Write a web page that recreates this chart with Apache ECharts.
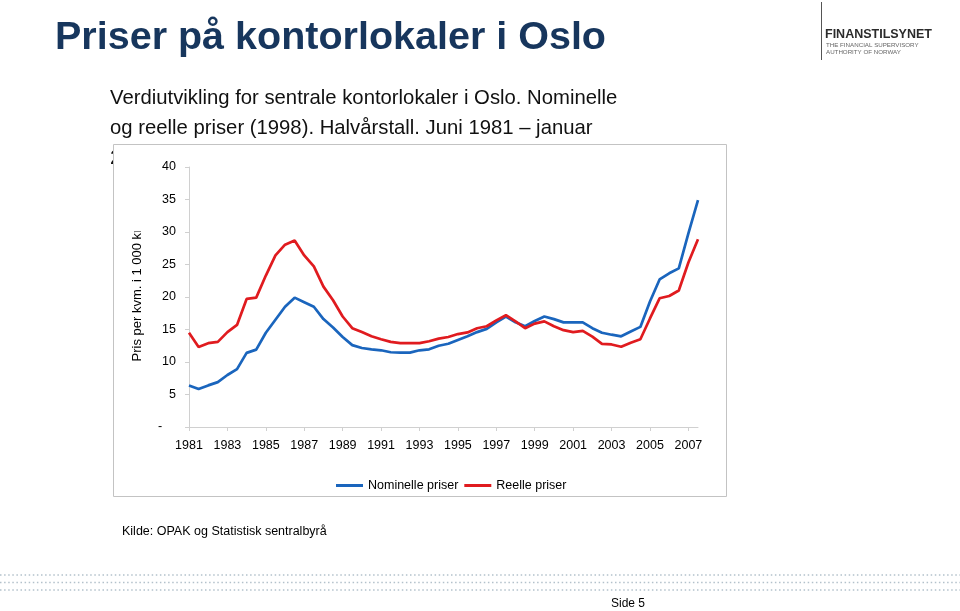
<!DOCTYPE html>
<html>
<head>
<meta charset="utf-8">
<script src="https://cdn.jsdelivr.net/npm/echarts@6/dist/echarts.min.js"></script>
<style>
html,body{margin:0;padding:0;background:#fff;}
#c{width:960px;height:611px;}
</style>
</head>
<body>
<div id="c"></div>
<script>
var periods = ['jun 1981','jan 1982','jun 1982','jan 1983','jun 1983','jan 1984','jun 1984','jan 1985','jun 1985','jan 1986',
  'jun 1986','jan 1987','jun 1987','jan 1988','jun 1988','jan 1989','jun 1989','jan 1990','jun 1990','jan 1991',
  'jun 1991','jan 1992','jun 1992','jan 1993','jun 1993','jan 1994','jun 1994','jan 1995','jun 1995','jan 1996',
  'jun 1996','jan 1997','jun 1997','jan 1998','jun 1998','jan 1999','jun 1999','jan 2000','jun 2000','jan 2001',
  'jun 2001','jan 2002','jun 2002','jan 2003','jun 2003','jan 2004','jun 2004','jan 2005','jun 2005','jan 2006',
  'jun 2006','jan 2007','jun 2007','jan 2008'];

var nominelle = [6.4, 5.85, 6.4, 6.9, 8.0, 8.9, 11.4, 11.9, 14.5, 16.5,
  18.5, 19.9, 19.2, 18.5, 16.6, 15.3, 13.85, 12.6, 12.15, 11.95,
  11.8, 11.5, 11.45, 11.45, 11.8, 11.95, 12.5, 12.8, 13.4, 13.95,
  14.6, 15.1, 16.1, 17.0, 16.1, 15.5, 16.3, 17.0, 16.6, 16.1,
  16.1, 16.1, 15.2, 14.5, 14.2, 13.95, 14.7, 15.4, 19.3, 22.7,
  23.65, 24.4, 29.8, 34.9];

var reelle = [14.5, 12.3, 12.9, 13.1, 14.6, 15.7, 19.7, 19.9, 23.3, 26.4,
  28.05, 28.7, 26.4, 24.7, 21.6, 19.5, 17.0, 15.2, 14.6, 13.95,
  13.5, 13.1, 12.9, 12.9, 12.9, 13.2, 13.6, 13.85, 14.3, 14.55,
  15.2, 15.5, 16.4, 17.2, 16.25, 15.2, 15.9, 16.25, 15.5, 14.9,
  14.6, 14.8, 13.9, 12.8, 12.7, 12.35, 12.97, 13.5, 16.7, 19.8,
  20.15, 21.0, 25.3, 28.9];

var seriesNames = ['Nominelle priser', 'Reelle priser'];
var yTicks = [0, 5, 10, 15, 20, 25, 30, 35, 40];

var FONT = '"Liberation Sans", Arial, sans-serif';
var chart = echarts.init(document.getElementById('c'), null, {renderer: 'canvas'});

var dotRows = [];
[575, 582.5, 590].forEach(function (yy) {
  dotRows.push({
    type: 'line', z: 1,
    shape: {x1: 0, y1: yy, x2: 960, y2: yy},
    style: {stroke: '#b3c1cb', lineWidth: 1.6, lineDash: [1.5, 2.6]}
  });
});

var option = {
  animation: false,
  backgroundColor: '#ffffff',
  textStyle: {fontFamily: FONT},
  grid: {left: 189, top: 167, width: 509, height: 260, containLabel: false},
  legend: {
    data: seriesNames,
    left: 331, top: 474,
    icon: 'rect', itemWidth: 27, itemHeight: 3, itemGap: 6, z: 10,
    textStyle: {fontFamily: FONT, fontSize: 12.5, color: '#000'}
  },
  xAxis: {
    type: 'category',
    z: 5,
    data: periods,
    boundaryGap: false,
    axisLine: {lineStyle: {color: '#d0d0d0', width: 1}},
    axisTick: {show: true, interval: 3, length: 4, lineStyle: {color: '#d0d0d0'}},
    axisLabel: {
      interval: 3, margin: 12, fontSize: 12.5, color: '#000', fontFamily: FONT,
      formatter: function (v) { return v.slice(-4); }
    },
    splitLine: {show: false}
  },
  yAxis: {
    type: 'value',
    z: 5,
    min: yTicks[0], max: yTicks[yTicks.length - 1], interval: 5,
    axisLine: {show: true, lineStyle: {color: '#d0d0d0', width: 1}},
    axisTick: {show: true, length: 4, lineStyle: {color: '#d0d0d0'}},
    axisLabel: {
      margin: 13, fontSize: 12.5, color: '#000', fontFamily: FONT,
      formatter: function (v) { return v === 0 ? '-    ' : String(v); }
    },
    splitLine: {show: false}
  },
  series: [
    {
      name: seriesNames[0], type: 'line', data: nominelle, z: 6,
      showSymbol: false, symbol: 'none',
      lineStyle: {color: '#1a65bd', width: 2.7},
      itemStyle: {color: '#1a65bd'}
    },
    {
      name: seriesNames[1], type: 'line', data: reelle, z: 7,
      showSymbol: false, symbol: 'none',
      lineStyle: {color: '#e01b1f', width: 2.7},
      itemStyle: {color: '#e01b1f'}
    }
  ],
  graphic: [
    {type: 'text', z: 0, x: 55, y: 38,
      style: {text: 'Priser på kontorlokaler i Oslo', fontFamily: FONT, fontSize: 39.5, fontWeight: 'bold',
        fill: '#17365d', textAlign: 'left', textVerticalAlign: 'middle'}},
    {type: 'text', z: 0, x: 110, y: 98,
      style: {text: 'Verdiutvikling for sentrale kontorlokaler i Oslo. Nominelle', fontFamily: FONT, fontSize: 20.3,
        fill: '#111', textAlign: 'left', textVerticalAlign: 'middle'}},
    {type: 'text', z: 0, x: 110, y: 128,
      style: {text: 'og reelle priser (1998). Halvårstall. Juni 1981 – januar', fontFamily: FONT, fontSize: 20.3,
        fill: '#111', textAlign: 'left', textVerticalAlign: 'middle'}},
    {type: 'text', z: 0, x: 110, y: 158,
      style: {text: '2008', fontFamily: FONT, fontSize: 20.3,
        fill: '#111', textAlign: 'left', textVerticalAlign: 'middle'}},
    {type: 'rect', z: 1,
      shape: {x: 113.5, y: 144.5, width: 613, height: 352},
      style: {fill: '#ffffff', stroke: '#c3c3c3', lineWidth: 1}},
    {type: 'text', z: 5, x: 137.5, y: 361.5, rotation: Math.PI / 2,
      style: {text: 'Pris per kvm. i 1 000 kr', fontFamily: FONT, fontSize: 13,
        fill: '#000', textAlign: 'left', textVerticalAlign: 'middle'}},
    {type: 'rect', z: 6,
      shape: {x: 124, y: 205, width: 26, height: 26.5},
      style: {fill: '#ffffff'}},
    {type: 'text', z: 2, x: 122, y: 532,
      style: {text: 'Kilde: OPAK og Statistisk sentralbyrå', fontFamily: FONT, fontSize: 12.5,
        fill: '#000', textAlign: 'left', textVerticalAlign: 'middle'}},
    {type: 'line', z: 2, shape: {x1: 821.5, y1: 2, x2: 821.5, y2: 60},
      style: {stroke: '#555', lineWidth: 1}},
    {type: 'text', z: 2, x: 825, y: 35,
      style: {text: 'FINANSTILSYNET', fontFamily: FONT, fontSize: 12.5, fontWeight: 'bold',
        fill: '#2b2b2b', textAlign: 'left', textVerticalAlign: 'middle'}},
    {type: 'text', z: 2, x: 826, y: 45.5,
      style: {text: 'THE FINANCIAL SUPERVISORY', fontFamily: FONT, fontSize: 6.2,
        fill: '#666', textAlign: 'left', textVerticalAlign: 'middle'}},
    {type: 'text', z: 2, x: 826, y: 52.5,
      style: {text: 'AUTHORITY OF NORWAY', fontFamily: FONT, fontSize: 6.2,
        fill: '#666', textAlign: 'left', textVerticalAlign: 'middle'}},
    {type: 'text', z: 2, x: 611, y: 604,
      style: {text: 'Side 5', fontFamily: FONT, fontSize: 12,
        fill: '#000', textAlign: 'left', textVerticalAlign: 'middle'}}
  ].concat(dotRows)
};
chart.setOption(option);
</script>
</body>
</html>
